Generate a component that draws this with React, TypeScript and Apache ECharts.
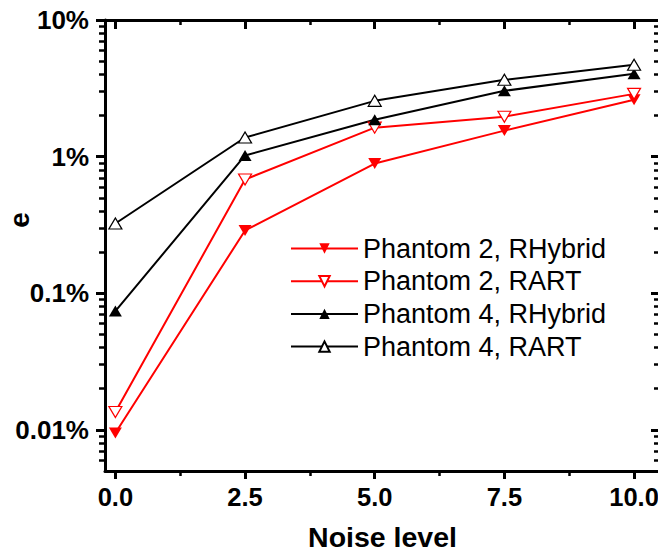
import React, { useEffect, useRef } from 'react';
import * as echarts from 'echarts';

// ---- data (values in %) ----
const noiseLevels = [0, 2.5, 5, 7.5, 10];
const p2RHybrid = [0.0095, 0.288, 0.89, 1.55, 2.61];
const p2RART = [0.0135, 0.68, 1.63, 1.96, 2.88];
const p4RHybrid = [0.074, 1.02, 1.86, 3.03, 4.04];
const p4RART = [0.324, 1.38, 2.56, 3.65, 4.7];
const seriesNames = ['Phantom 2, RHybrid', 'Phantom 2, RART', 'Phantom 4, RHybrid', 'Phantom 4, RART'];
const xTitle = 'Noise level';
const yTitle = 'e';

// ---- ticks ----
const xMajorTicks = [0, 2.5, 5, 7.5, 10];
const xMinorTicks = [1.25, 3.75, 6.25, 8.75];
const yMajorTicks = [0.01, 0.1, 1, 10];
const yMinorTicks = [
  0.006, 0.007, 0.008, 0.009,
  0.02, 0.03, 0.04, 0.05, 0.06, 0.07, 0.08, 0.09,
  0.2, 0.3, 0.4, 0.5, 0.6, 0.7, 0.8, 0.9,
  2, 3, 4, 5, 6, 7, 8, 9,
];

const FONT = '"Liberation Sans", Arial, Helvetica, sans-serif';
const RED = '#ff0000';
const BLACK = '#000000';

const X_MIN = -0.2;
const X_MAX = 10.5;
const Y_MIN = 0.005;
const Y_MAX = 10;

function buildOption(): any {
  const tickLine = (w: number) => ({ color: BLACK, width: w });
  const spine = { show: true, onZero: false, lineStyle: { color: BLACK, width: 3 } };
  const noLine = { show: false, onZero: false };

  const xBase = { type: 'value', min: X_MIN, max: X_MAX, splitLine: { show: false } };
  const yBase = { type: 'log', logBase: 10, min: Y_MIN, max: Y_MAX, splitLine: { show: false } };

  const mk = (name: string, values: number[], color: string, hollow: boolean, down: boolean) => ({
    name,
    type: 'line',
    data: noiseLevels.map((x, i) => [x, values[i]]),
    symbol: 'triangle',
    symbolRotate: down ? 180 : 0,
    symbolSize: [13, 11],
    showSymbol: true,
    color,
    lineStyle: { color, width: 2 },
    itemStyle: hollow
      ? { color: '#ffffff', borderColor: color, borderWidth: 1.2 }
      : { color, borderColor: color, borderWidth: 0 },
    emphasis: { disabled: true },
    z: 3,
  });

  return {
    animation: false,
    backgroundColor: '#ffffff',
    grid: {
      left: 105,
      right: -2,
      top: 20,
      bottom: 81,
      containLabel: false,
      outerBoundsMode: 'none',
    },
    legend: {
      orient: 'vertical',
      left: 290,
      top: 235,
      padding: 0,
      itemWidth: 67,
      itemHeight: 13,
      itemGap: 5.7,
      data: seriesNames,
      textStyle: { fontSize: 27, fontFamily: FONT, color: BLACK, lineHeight: 26 },
    },
    graphic: [
      {
        type: 'text',
        x: 19,
        y: 220,
        rotation: Math.PI / 2,
        style: {
          text: yTitle,
          font: `bold 28px ${FONT}`,
          fill: BLACK,
          align: 'center',
          verticalAlign: 'middle',
        },
      },
    ],
    xAxis: [
      {
        ...xBase,
        position: 'bottom',
        axisLine: spine,
        axisTick: { show: true, inside: false, customValues: xMajorTicks, length: 8, lineStyle: tickLine(3) },
        axisLabel: {
          show: true,
          customValues: xMajorTicks,
          formatter: (v: number) => v.toFixed(1),
          fontSize: 25.5,
          fontWeight: 'bold',
          fontFamily: FONT,
          color: BLACK,
          margin: 13,
        },
        name: xTitle,
        nameLocation: 'middle',
        nameGap: 51,
        nameTextStyle: { fontSize: 28.5, fontWeight: 'bold', fontFamily: FONT, color: BLACK },
      },
      {
        ...xBase,
        position: 'bottom',
        axisLine: noLine,
        axisTick: { show: true, inside: false, customValues: xMinorTicks, length: 5, lineStyle: tickLine(2.5) },
        axisLabel: { show: false },
      },
      {
        ...xBase,
        position: 'top',
        axisLine: spine,
        axisTick: { show: true, inside: true, customValues: xMajorTicks, length: 9, lineStyle: tickLine(3) },
        axisLabel: { show: false },
      },
      {
        ...xBase,
        position: 'top',
        axisLine: noLine,
        axisTick: { show: true, inside: true, customValues: xMinorTicks, length: 5, lineStyle: tickLine(2.5) },
        axisLabel: { show: false },
      },
    ],
    yAxis: [
      {
        ...yBase,
        position: 'left',
        axisLine: spine,
        axisTick: { show: true, inside: false, customValues: yMajorTicks, length: 9, lineStyle: tickLine(3) },
        axisLabel: {
          show: true,
          customValues: yMajorTicks,
          formatter: (v: number) => `${v}%`,
          fontSize: 26,
          fontWeight: 'bold',
          fontFamily: FONT,
          color: BLACK,
          margin: 16,
        },
      },
      {
        ...yBase,
        position: 'left',
        axisLine: noLine,
        axisTick: { show: true, inside: false, customValues: yMinorTicks, length: 6, lineStyle: tickLine(2.5) },
        axisLabel: { show: false },
      },
      {
        ...yBase,
        position: 'right',
        axisLine: spine,
        axisTick: { show: true, inside: true, customValues: yMajorTicks, length: 9, lineStyle: tickLine(3) },
        axisLabel: { show: false },
      },
      {
        ...yBase,
        position: 'right',
        axisLine: noLine,
        axisTick: { show: true, inside: true, customValues: yMinorTicks, length: 6, lineStyle: tickLine(2.5) },
        axisLabel: { show: false },
      },
    ],
    series: [
      mk(seriesNames[0], p2RHybrid, RED, false, true),
      mk(seriesNames[1], p2RART, RED, true, true),
      mk(seriesNames[2], p4RHybrid, BLACK, false, false),
      mk(seriesNames[3], p4RART, BLACK, true, false),
    ],
  };
}

export default function App() {
  const ref = useRef<HTMLDivElement>(null);
  useEffect(() => {
    if (!ref.current) return;
    const chart = echarts.init(ref.current, undefined, { renderer: 'svg' });
    chart.setOption(buildOption());
    return () => chart.dispose();
  }, []);
  return (
    <div
      ref={ref}
      style={{ position: 'fixed', left: 0, top: 0, width: 658, height: 552, background: '#fff' }}
    />
  );
}
